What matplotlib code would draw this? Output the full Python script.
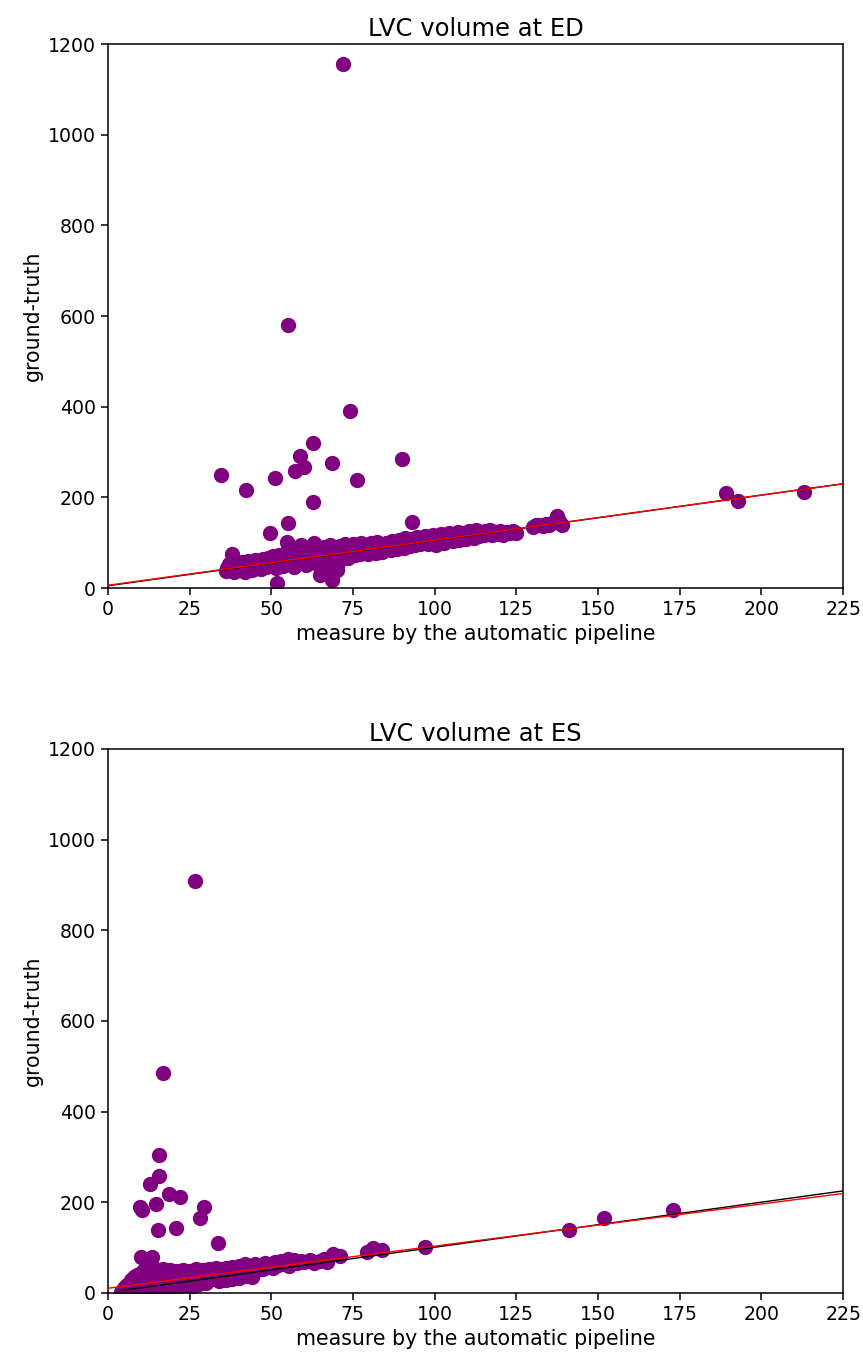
import numpy as np
import matplotlib
matplotlib.use("Agg")
import matplotlib.pyplot as plt

# end-diastole: (automatic pipeline, ground-truth) pairs
ed_auto = [
    36, 36.5, 37, 37.9, 38, 38.5, 39, 39.5, 40, 40.5,
    41, 41.5, 42, 42.5, 43, 43.5, 44, 44.5, 45, 45.5,
    46, 46.5, 47, 47.5, 48, 48.5, 49, 49.5, 50, 50.5,
    51, 51.5, 52, 52.5, 53, 53.5, 54, 54.5, 55, 55.5,
    56, 56.5, 57, 57.5, 58, 58.5, 59, 59.5, 60, 60.5,
    61, 61.5, 62, 62.5, 63, 63.5, 64, 64.5, 65, 65.5,
    66, 66.5, 67, 67.5, 68, 68.5, 69, 69.5, 70, 70.5,
    71, 71.5, 72, 72.5, 73, 73.5, 74, 74.5, 75, 75.5,
    76, 76.5, 77, 77.5, 78, 78.5, 79, 79.5, 80, 80.5,
    81, 81.5, 82, 82.5, 83, 83.5, 84, 84.5, 85, 85.5,
    86, 86.5, 87, 87.5, 88, 88.5, 89, 89.5, 90, 90.5,
    91, 91.5, 92, 92.5, 93, 93.5, 94, 94.5, 95, 95.5,
    96, 96.5, 97, 97.5, 98, 98.5, 99, 99.5, 100, 100.5,
    101, 101.5, 102, 102.5, 103, 103.5, 104, 104.5, 105, 105.5,
    106, 106.5, 107, 107.5, 108, 108.5, 109, 109.5, 110, 110.5,
    111, 111.5, 112, 112.5, 113, 113.5, 114, 114.5, 115, 115.5,
    116, 117, 117.5, 118, 119, 120, 121, 122, 123, 124, 125,
    130, 131, 132, 133, 134, 135, 136, 137.3, 138, 139,
    55, 57, 59, 61, 63, 66, 70, 73,
    71.8, 55, 74.1, 62.8, 58.8, 60.1, 57.2, 68.7, 89.9, 34.6,
    42.4, 51.1, 76.3, 62.8, 55, 49.6, 54.7, 93, 51.8, 68.5,
    64.9, 189.2, 192.7, 213.1,
]
ed_truth = [
    38, 45, 52, 74, 42, 35, 48, 55, 40, 50,
    58, 44, 36, 52, 60, 47, 39, 55, 62, 45,
    50, 58, 41, 63, 53, 46, 66, 57, 48, 70,
    60, 44, 55, 72, 63, 49, 75, 58, 66, 52,
    80, 61, 46, 70, 84, 56, 75, 64, 90, 50,
    70, 82, 60, 93, 74, 55, 86, 66, 78, 48,
    90, 70, 60, 82, 95, 74, 65, 88, 78, 56,
    92, 70, 84, 97, 75, 66, 89, 80, 98, 72,
    85, 93, 76, 100, 88, 80, 95, 74, 90, 99,
    82, 94, 77, 102, 88, 96, 80, 91, 100, 86,
    96, 84, 104, 92, 99, 87, 106, 94, 100, 89,
    110, 97, 104, 92, 108, 100, 95, 112, 103, 97,
    110, 100, 115, 105, 98, 112, 104, 118, 108, 96,
    114, 104, 120, 110, 100, 116, 108, 122, 112, 104,
    118, 110, 124, 106, 116, 112, 122, 108, 118, 126,
    114, 120, 110, 127, 118, 114, 124, 120, 116, 126,
    120, 128, 116, 124, 120, 126, 118, 124, 121, 125, 122,
    135, 138, 140, 137, 142, 139, 144, 159, 148, 138,
    98, 88, 95, 64, 100, 44, 40, 92,
    1157, 580, 390, 319, 291, 268, 258, 275, 284, 249,
    216, 242, 238, 190, 144, 122, 102, 146, 10, 18,
    29, 210, 193, 212,
]

# end-systole
es_auto = [
    4, 4.5, 5, 5, 5.5, 6, 6, 6.5, 7, 7, 7.5, 8, 8, 8.5, 9, 9, 9.5, 10, 10, 10.5,
    11, 11, 11.5, 12, 12, 12.5, 13, 13, 13.5, 14, 14, 14.5, 15, 15, 15.5, 16, 16,
    16.5, 17, 17, 17.5, 18, 18, 18.5, 19, 19, 19.5, 20, 20, 20.5, 21, 21, 21.5,
    22, 22, 22.5, 23, 23, 23.5, 24, 24, 24.5, 25, 25, 25.5, 26, 26, 26.5, 27, 27,
    27.5, 28, 28, 28.5, 29, 29.5, 30, 30, 30.5, 31, 31.5, 32, 32, 32.5, 33, 33.5,
    34, 34.5, 35, 35, 35.5, 36, 36.5, 37, 37.5, 38, 38.5, 39, 39.5, 40, 40.5, 41,
    41.5, 42, 42.5, 43, 43.5, 44, 44.5, 45, 45.5, 46, 47, 47.5, 48, 49, 50, 50.5,
    51, 52, 53, 54, 55, 55.5, 56, 57, 58, 59, 60, 62, 63, 65, 66, 67,
    7, 8, 9, 10, 11, 12, 13, 14, 15, 17, 19, 21, 23, 25, 27, 29, 31, 33,
    12, 13, 14, 16, 18, 20, 22, 24, 26, 28, 30, 34, 36, 38, 40, 42, 44,
    26.6, 16.9, 15.7, 15.7, 12.9, 18.8, 22, 9.8, 10.3, 14.7, 29.4, 28.2, 15.4,
    20.8, 33.8, 10, 13.4, 69, 71, 79.2, 81.2, 83.8, 97, 141.1, 151.9, 172.8,
]
es_truth = [
    2, 6, 10, 3, 14, 8, 18, 4, 12, 22, 16, 6, 26, 19, 10, 30, 23, 14, 36, 27,
    8, 40, 20, 31, 48, 15, 36, 25, 44, 18, 30, 40, 22, 48, 33, 26, 42,
    16, 36, 46, 28, 20, 40, 33, 45, 25, 38, 30, 47, 22, 36, 44, 27,
    40, 32, 48, 25, 37, 44, 30, 46, 35, 28, 41, 48, 33, 24, 44, 38, 49,
    30, 42, 26, 47, 35, 28, 44, 50, 32, 40, 48, 30, 45, 37, 50, 34,
    43, 52, 38, 30, 47, 55, 40, 48, 34, 58, 44, 51, 40, 60, 47, 38,
    55, 63, 45, 52, 60, 42, 56, 64, 50, 58, 62, 52, 66, 58, 64, 55,
    68, 62, 70, 64, 74, 60, 68, 72, 65, 70, 68, 72, 66, 70, 75, 68,
    28, 34, 40, 44, 50, 54, 52, 55, 50, 52, 50, 48, 51, 49, 52, 50, 53, 55,
    12, 8, 14, 10, 12, 16, 14, 18, 16, 20, 22, 26, 28, 30, 33, 36, 35,
    908, 484, 303, 257, 241, 218, 211, 190, 183, 196, 189, 165, 138,
    143, 110, 79, 79, 85, 82, 91, 99, 95, 102, 139, 166, 182,
]

# fitted lines (intercept, slope)
ed_black = (5, 1.0)
ed_red = (6, 0.995)
es_black = (1, 0.995)
es_red = (10, 0.93)

plt.rcParams['font.size'] = 13.6
plt.rcParams['axes.linewidth'] = 1.1
plt.rcParams['xtick.major.size'] = 5
plt.rcParams['ytick.major.size'] = 5
plt.rcParams['xtick.major.width'] = 1.1
plt.rcParams['ytick.major.width'] = 1.1

fig = plt.figure(figsize=(8.63, 13.58), dpi=100)
ax1 = fig.add_axes([0.125, 0.567, 0.852, 0.4005])
ax2 = fig.add_axes([0.125, 0.048, 0.852, 0.4005])

panels = [
    (ax1, ed_auto, ed_truth, ed_black, ed_red, "LVC volume at ED", 0),
    (ax2, es_auto, es_truth, es_black, es_red, "LVC volume at ES", 3.7),
]
for ax, xs, ys, black, red, title, x0 in panels:
    ax.scatter(xs, ys, s=100, color="purple", zorder=2)
    xl = np.array([x0, 225])
    ax.plot(xl, black[0] + black[1] * xl, color="black", lw=1.0, zorder=3)
    xr = np.array([0, 225])
    ax.plot(xr, red[0] + red[1] * xr, color="red", lw=1.0, zorder=3)
    ax.set_xlim(0, 225)
    ax.set_ylim(0, 1200)
    ax.set_xticks(np.arange(0, 226, 25))
    ax.set_yticks(np.arange(0, 1201, 200))
    ax.set_title(title, fontsize=17.5)
    ax.set_xlabel("measure by the automatic pipeline", fontsize=14.8)
    ax.set_ylabel("ground-truth", fontsize=14.8)

fig.savefig("out.png", dpi=100)
